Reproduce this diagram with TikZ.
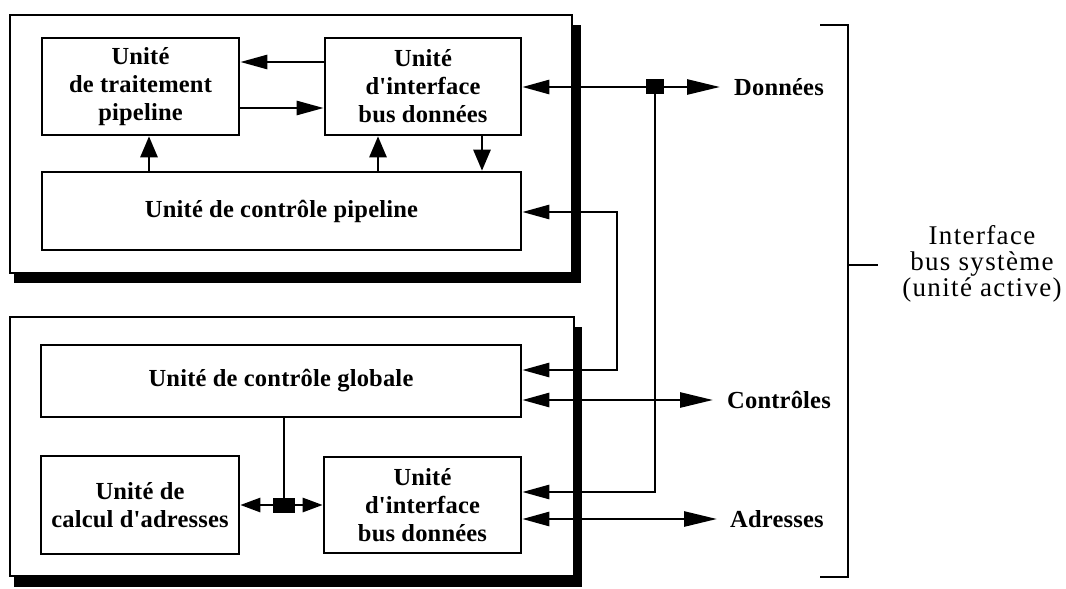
\documentclass[tikz,border=0pt]{standalone}
\usepackage{fontspec}
\setmainfont{Liberation Serif}
\newfontfamily\boxfont{Liberation Serif}[LetterSpace=0.8]
\newfontfamily\bigfont{Liberation Serif}[LetterSpace=5]
\usetikzlibrary{arrows.meta}
\tikzset{
  unit/.style={draw, line width=2.6pt, fill=white, inner sep=0pt, align=center,
    font=\boxfont\fontsize{24.5}{28}\bfseries},
  lbl/.style={anchor=west, inner sep=0pt, font=\boxfont\fontsize{24.5}{28}\bfseries},
  conn/.style={line width=2.7pt},
  frame/.style={line width=2.4pt, fill=white},
  junc/.style={fill=black, inner sep=0pt},
  bigtip/.tip={Triangle[length=33pt,width=15pt]},
  medtip/.tip={Triangle[length=27pt,width=14pt]},
  uptip/.tip={Triangle[length=21pt,width=17pt]},
  smtip/.tip={Triangle[length=20pt,width=14pt]},
}
\begin{document}
\begin{tikzpicture}[x=1pt,y=-1pt]
\useasboundingbox (0,0) rectangle (1066,589);
% outer frames with shadows
\fill (14,25) rectangle (581,283);
\draw[frame] (10,15) rectangle (572,273);
\fill (14,327) rectangle (582,587);
\draw[frame] (10,317) rectangle (574,576);
% units
\node[unit, minimum width=197pt, minimum height=97pt] (trait) at (140.5,86.5) {Unité\\de traitement\\pipeline};
\node[unit, minimum width=196pt, minimum height=97pt] (ifh) at (423,86.5) {Unité\\d'interface\\bus données};
\node[unit, minimum width=479pt, minimum height=78pt] (cp) at (281.5,211) {Unité de contrôle pipeline};
\node[unit, minimum width=480pt, minimum height=72pt] (cg) at (281,381) {Unité de contrôle globale};
\node[unit, minimum width=198pt, minimum height=98pt] (calc) at (140,505) {Unité de\\calcul d'adresses};
\node[unit, minimum width=197pt, minimum height=96pt] (ifb) at (422.5,505) {Unité\\d'interface\\bus données};
% junctions and coordinates
\node[junc, minimum width=18pt, minimum height=15pt] (j1) at (655,86) {};
\node[junc, minimum width=22pt, minimum height=15pt] (j2) at (284,505) {};
\coordinate (c1) at (617,212);
\coordinate (dtip) at (720,87);
\coordinate (ctip) at (713,400);
\coordinate (atip) at (717,519);
% labels
\node[lbl] (don) at (734,87) {Données};
\node[lbl] (con) at (727,400) {Contrôles};
\node[lbl] (adr) at (730,519) {Adresses};
\node[font=\bigfont\fontsize{27}{26}\selectfont, align=center] (bus) at (982,264) {Interface\\bus système\\(unité active)};
% connectors in the pipeline part
\draw[conn,-medtip] (ifh.west |- 0,62) -- (trait.east |- 0,62);
\draw[conn,-medtip] (trait.east |- 0,108) -- (ifh.west |- 0,108);
\draw[conn,-uptip] (cp.north -| 149,0) -- (trait.south -| 149,0);
\draw[conn,-uptip] (cp.north -| 378,0) -- (ifh.south -| 378,0);
\draw[conn,-uptip] (ifh.south -| 482,0) -- (cp.north -| 482,0);
% bus connections
\draw[conn,medtip-bigtip] (ifh.east |- dtip) -- (dtip);
\draw[conn,-medtip] (j1.center) |- (ifb.east |- 0,492);
\draw[conn,medtip-medtip] (cp.east |- c1) -- (c1) |- (cg.east |- 0,370);
\draw[conn,medtip-bigtip] (cg.east |- ctip) -- (ctip);
\draw[conn,medtip-bigtip] (ifb.east |- atip) -- (atip);
% global control to address units
\draw[conn] (cg.south -| j2) -- (j2.center);
\draw[conn,-smtip] (j2.west) -- (calc.east |- j2);
\draw[conn,-smtip] (j2.east) -- (ifb.west |- j2);
\node[junc, minimum width=18pt, minimum height=15pt] at (j1) {};
\node[junc, minimum width=22pt, minimum height=15pt] at (j2) {};
% bracket
\draw[line width=2.4pt] (820,25) -- (848,25) -- (848,577) -- (820,577);
\draw[line width=2.4pt] (848,265) -- (878,265);
\end{tikzpicture}
\end{document}
